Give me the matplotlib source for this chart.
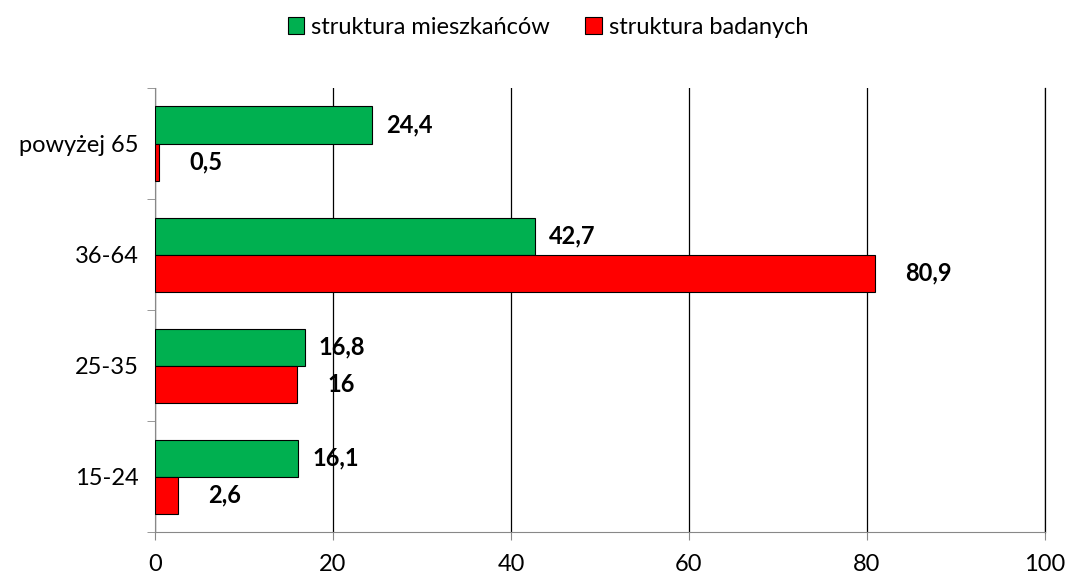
import matplotlib.pyplot as plt
import numpy as np

plt.rcParams['font.family'] = ['Lato', 'DejaVu Sans']

categories = ["15-24", "25-35", "36-64", "powyżej 65"]
mieszkancy = [16.1, 16.8, 42.7, 24.4]
badani = [2.6, 16, 80.9, 0.5]
green_labels = ["16,1", "16,8", "42,7", "24,4"]
red_labels = ["2,6", "16", "80,9", "0,5"]

fig = plt.figure(figsize=(10.66, 5.74), dpi=100)
ax = fig.add_axes([155 / 1066, 1 - 532 / 574, 890 / 1066, 444 / 574])

y = np.arange(len(categories))
h = 1 / 3
green = "#00B050"
red = "#FF0000"

ax.barh(y + h / 2, mieszkancy, height=h, color=green, edgecolor="black", linewidth=0.8,
        label="struktura mieszkańców", zorder=3)
ax.barh(y - h / 2, badani, height=h, color=red, edgecolor="black", linewidth=0.8,
        label="struktura badanych", zorder=3)

for i in range(len(categories)):
    ax.text(mieszkancy[i] + 1.6, y[i] + h / 2, green_labels[i], va="center", ha="left",
            fontsize=17, fontweight="bold", zorder=4)
    ax.text(badani[i] + 3.4, y[i] - h / 2, red_labels[i], va="center", ha="left",
            fontsize=17, fontweight="bold", zorder=4)

ax.set_xlim(0, 100)
ax.set_ylim(-0.5, len(categories) - 0.5)
ax.set_xticks([0, 20, 40, 60, 80, 100])
ax.set_yticks(y)
ax.set_yticklabels(categories)
ax.set_yticks(np.arange(-0.5, len(categories)), minor=True)
ax.tick_params(axis="y", which="major", length=0, pad=12, labelsize=17)
ax.tick_params(axis="y", which="minor", length=6, color="#888888")
ax.tick_params(axis="x", length=6, color="#888888", pad=10, labelsize=17)
ax.grid(axis="x", color="black", linewidth=0.9, zorder=0)

ax.spines["top"].set_visible(False)
ax.spines["right"].set_color("black")
ax.spines["right"].set_linewidth(0.9)
ax.spines["left"].set_color("#888888")
ax.spines["bottom"].set_color("#888888")

fig.legend(loc="center", bbox_to_anchor=(548 / 1066, 1 - 27 / 574), ncol=2, frameon=False,
           fontsize=17, handlelength=0.7, handleheight=0.7, handletextpad=0.3,
           columnspacing=1.5)

fig.savefig("out.png", dpi=100)
